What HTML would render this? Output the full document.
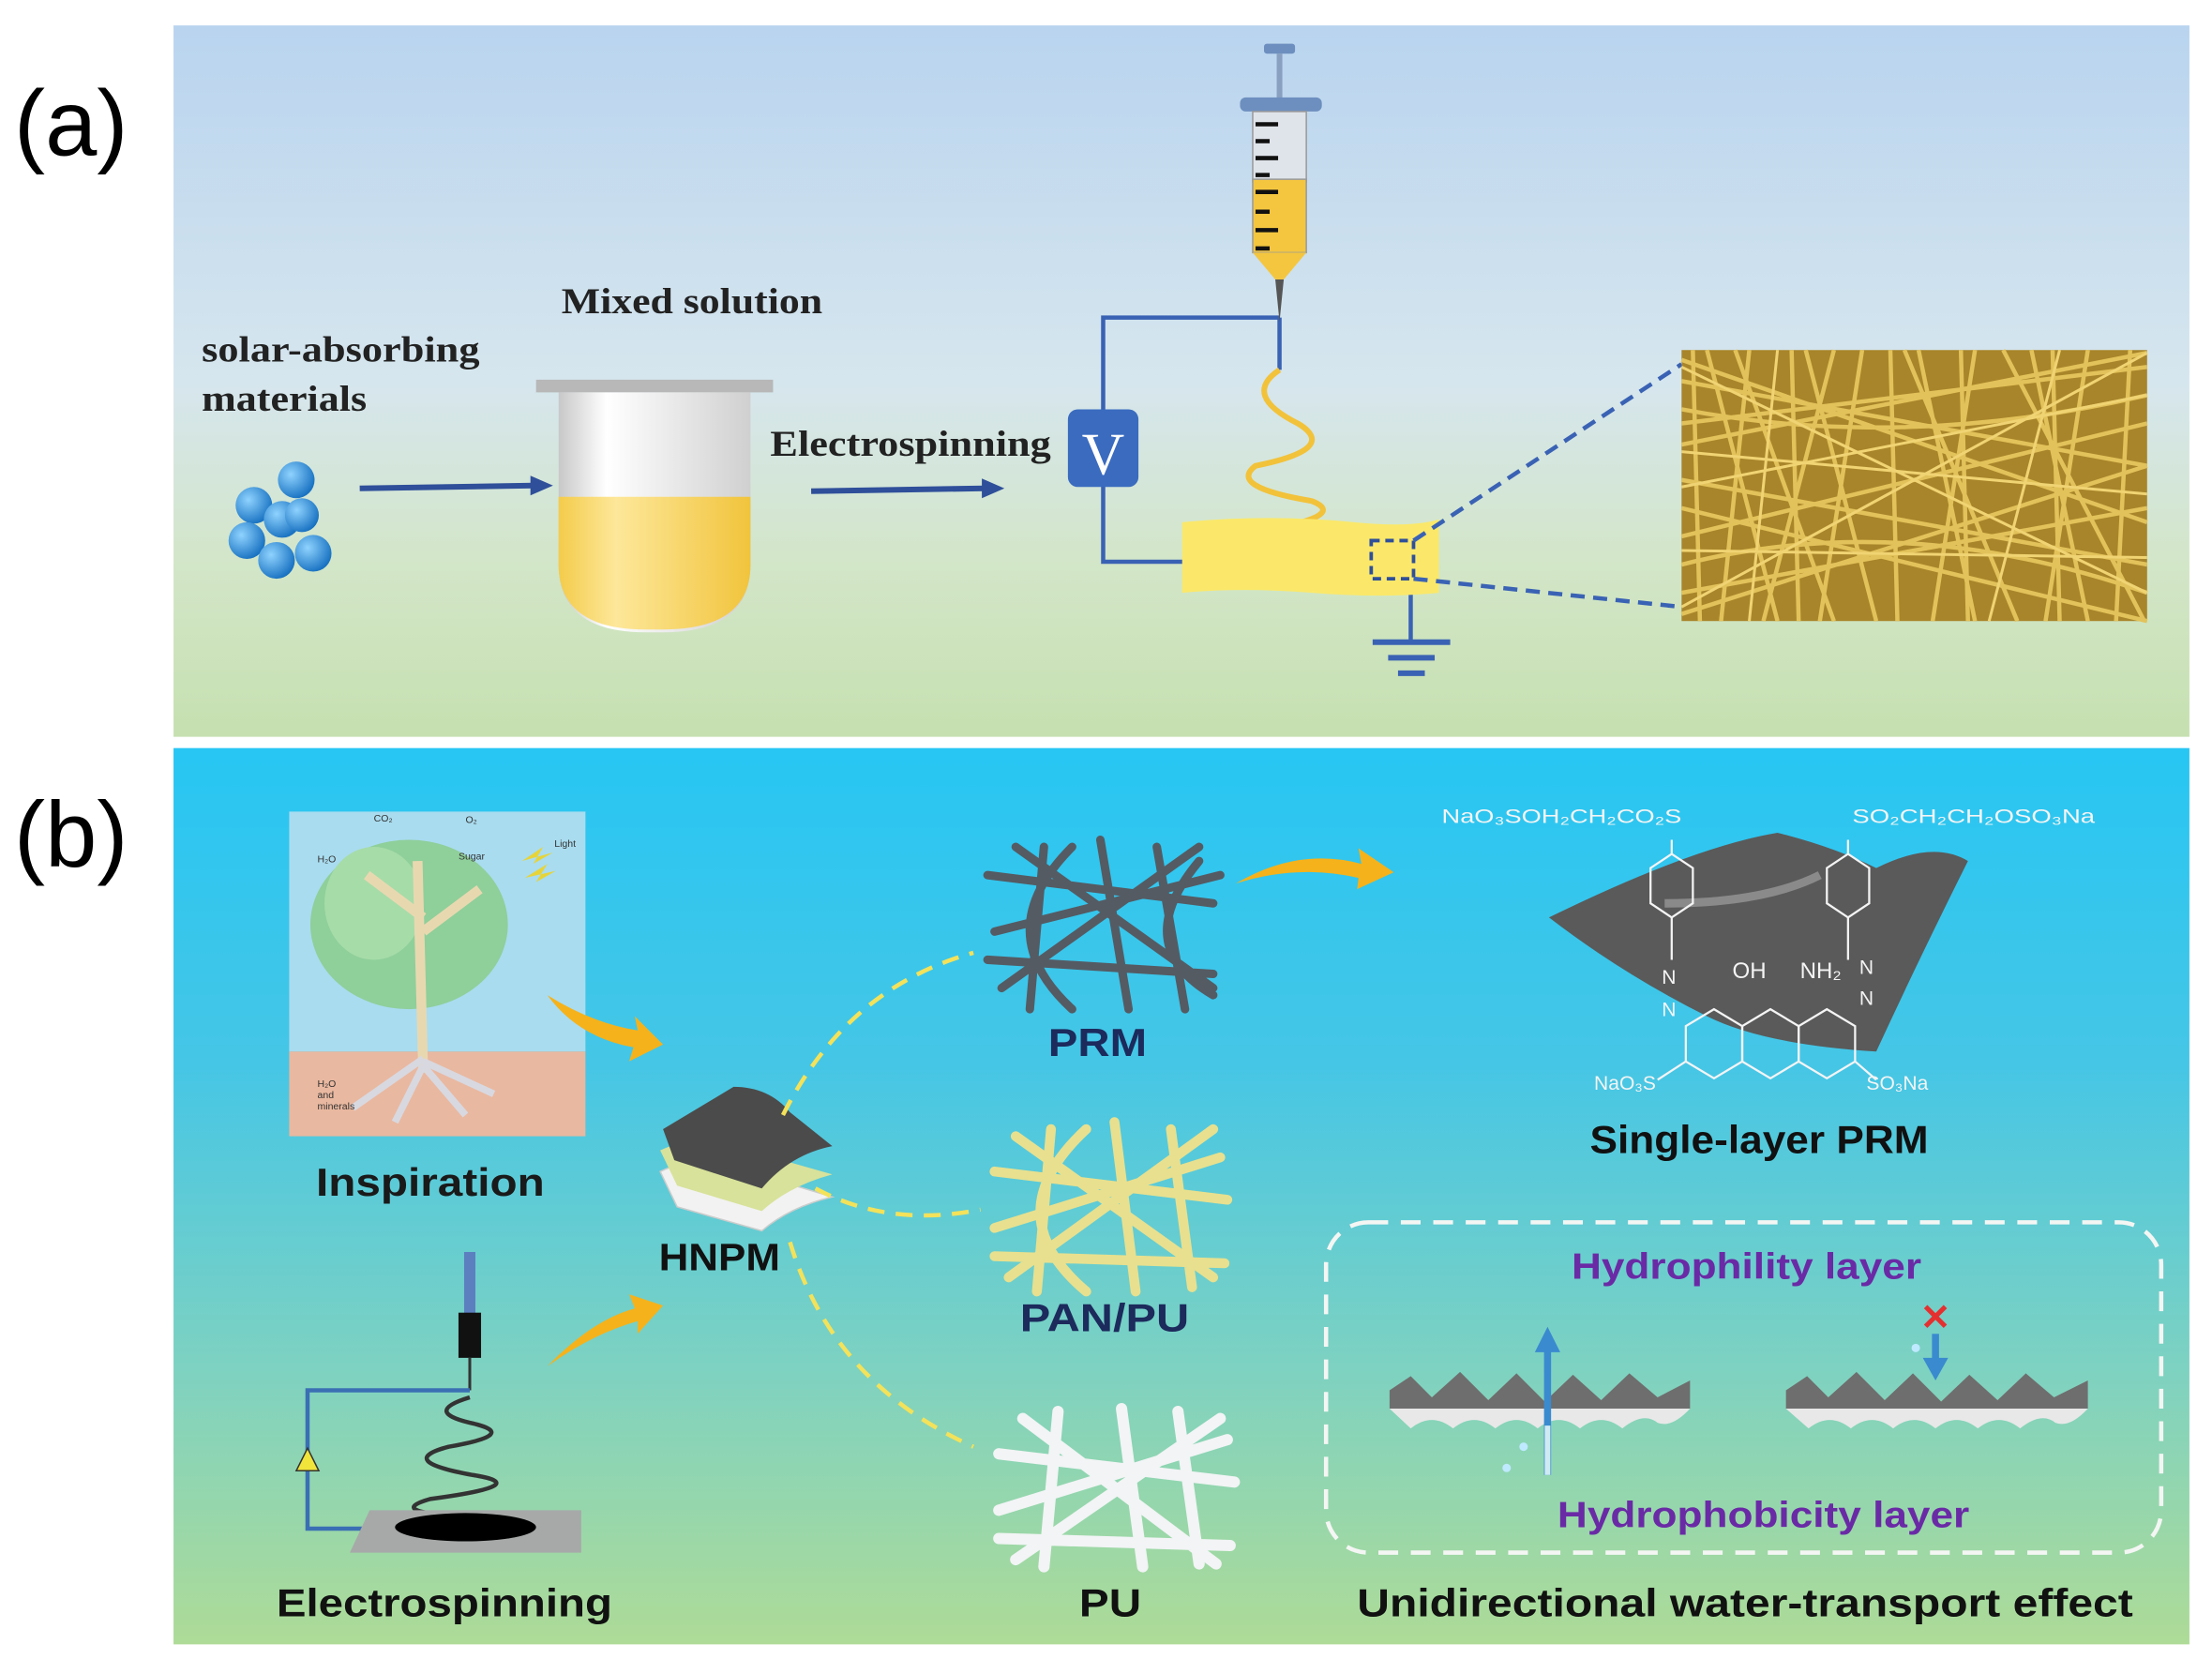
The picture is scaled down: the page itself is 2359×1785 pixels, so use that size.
<!DOCTYPE html>
<html><head><meta charset="utf-8"><style>
html,body{margin:0;padding:0;background:#fff;}
svg{display:block;}
</style></head><body>
<svg width="2359" height="1785" viewBox="0 0 1568 1186" preserveAspectRatio="none" xmlns="http://www.w3.org/2000/svg">
<defs>
<linearGradient id="ga" x1="0" y1="0" x2="0" y2="1">
<stop offset="0" stop-color="#b9d4ef"/><stop offset="0.5" stop-color="#d6e6ee"/><stop offset="0.75" stop-color="#d3e6c9"/><stop offset="1" stop-color="#c6e0b0"/></linearGradient>
<linearGradient id="gb" x1="0" y1="0" x2="0" y2="1">
<stop offset="0" stop-color="#27c6f3"/><stop offset="0.35" stop-color="#45c6e6"/><stop offset="0.7" stop-color="#7fd2c0"/><stop offset="1" stop-color="#aedb97"/></linearGradient>
<linearGradient id="liq" x1="0" y1="0" x2="1" y2="0">
<stop offset="0" stop-color="#f4cc4a"/><stop offset="0.3" stop-color="#fde79a"/><stop offset="1" stop-color="#f1c43c"/></linearGradient>
<linearGradient id="gl" x1="0" y1="0" x2="1" y2="0">
<stop offset="0" stop-color="#c8c8c8"/><stop offset="0.25" stop-color="#ffffff"/><stop offset="1" stop-color="#d0d0d0"/></linearGradient>
<radialGradient id="ball" cx="0.35" cy="0.35" r="0.7"><stop offset="0" stop-color="#8fd3ff"/><stop offset="1" stop-color="#1670c0"/></radialGradient>
</defs>
<rect width="1568" height="1186" fill="#fff"/>
<!-- panel a -->
<rect x="123" y="18" width="1429" height="504" fill="url(#ga)"/>
<text x="10" y="110" font-family="Liberation Sans, sans-serif" font-size="66">(a)</text>
<g fill="url(#ball)">
<circle cx="180" cy="358" r="13"/><circle cx="210" cy="340" r="13"/><circle cx="200" cy="368" r="13"/><circle cx="175" cy="383" r="13"/><circle cx="196" cy="397" r="13"/><circle cx="222" cy="392" r="13"/><circle cx="214" cy="365" r="12"/>
</g>
<text font-family="Liberation Serif, serif" font-weight="bold" font-size="26" fill="#222"><tspan x="143" y="256" textLength="197" lengthAdjust="spacingAndGlyphs">solar-absorbing</tspan><tspan x="143" y="291" textLength="117" lengthAdjust="spacingAndGlyphs">materials</tspan></text>
<text x="398" y="222" font-family="Liberation Serif, serif" font-weight="bold" font-size="26" fill="#222" textLength="185" lengthAdjust="spacingAndGlyphs">Mixed solution</text>
<text x="546" y="323" font-family="Liberation Serif, serif" font-weight="bold" font-size="26" fill="#222" textLength="199" lengthAdjust="spacingAndGlyphs">Electrospinning</text>
<g stroke="#2f4f9a" stroke-width="4" fill="#2f4f9a">
<line x1="255" y1="346" x2="378" y2="344"/><polygon points="376,337 392,344 376,351" stroke="none"/>
<line x1="575" y1="348" x2="698" y2="346"/><polygon points="696,339 712,346 696,353" stroke="none"/>
</g>
<rect x="380" y="269" width="168" height="9" fill="#b8b8b8"/>
<path d="M396 278 H532 V400 Q532 448 470 448 H458 Q396 448 396 400 Z" fill="url(#gl)"/>
<path d="M396 352 H532 V400 Q532 446 470 446 H458 Q396 446 396 400 Z" fill="url(#liq)"/>
<g stroke="#3a62b4" stroke-width="3" fill="none">
<polyline points="782,292 782,225 907,225"/>
<polyline points="782,343 782,398 840,398"/>
<line x1="907" y1="225" x2="907" y2="262"/>
<line x1="1000" y1="418" x2="1000" y2="455"/>
</g>
<rect x="757" y="290" width="50" height="55" rx="7" fill="#3a6bbf"/>
<text x="782" y="336" text-anchor="middle" font-family="Liberation Serif, serif" font-size="42" fill="#fff">V</text>
<rect x="896" y="31" width="22" height="7" rx="2" fill="#6d8fbf"/>
<rect x="905" y="38" width="4" height="32" fill="#8aa0c0"/>
<rect x="879" y="69" width="58" height="10" rx="4" fill="#6d8fbf"/>
<rect x="888" y="79" width="38" height="50" fill="#dfe3ea" stroke="#999"/>
<rect x="888" y="127" width="38" height="52" fill="#f4c640" stroke="#999"/>
<path d="M888 179 H926 L910 198 H904 Z" fill="#f4c640"/>
<g stroke="#111" stroke-width="3"><line x1="890" y1="88" x2="906" y2="88"/><line x1="890" y1="100" x2="900" y2="100"/><line x1="890" y1="112" x2="906" y2="112"/><line x1="890" y1="124" x2="900" y2="124"/><line x1="890" y1="136" x2="906" y2="136"/><line x1="890" y1="150" x2="900" y2="150"/><line x1="890" y1="163" x2="906" y2="163"/><line x1="890" y1="176" x2="900" y2="176"/></g>
<polygon points="904,198 910,198 907,228" fill="#555"/>
<path d="M907 262 Q880 280 920 300 Q950 318 890 330 Q870 345 930 355 Q955 365 900 375" stroke="#f2c23a" stroke-width="4" fill="none"/>
<path d="M838 370 Q900 364 960 370 Q1000 374 1020 368 V420 Q980 424 930 420 Q880 416 838 420 Z" fill="#fbe86a"/>
<rect x="972" y="383" width="30" height="27" fill="none" stroke="#2f4f9a" stroke-width="2.5" stroke-dasharray="6,4"/>
<g stroke="#3a62b4" stroke-width="3" stroke-dasharray="10,6"><line x1="1002" y1="383" x2="1192" y2="258"/><line x1="1002" y1="410" x2="1192" y2="430"/></g>
<g stroke="#3a62b4" stroke-width="4"><line x1="973" y1="455" x2="1028" y2="455"/><line x1="984" y1="466" x2="1017" y2="466"/><line x1="991" y1="477" x2="1010" y2="477"/></g>
<rect x="1192" y="248" width="330" height="192" fill="#a8852a"/>
<g stroke="#e2c25a" stroke-width="3" fill="none">
<path d="M1192 270 L1522 330 M1192 300 L1522 260 M1192 340 L1522 400 M1192 380 L1522 300 M1192 420 L1522 360 M1192 360 L1522 440 M1192 290 Q1350 320 1522 280 M1192 400 Q1350 360 1522 420 M1192 255 L1522 370 M1192 315 L1522 250 M1192 435 L1522 330"/>
<path d="M1210 248 L1260 440 M1240 248 L1220 440 M1280 248 L1330 440 M1320 248 L1290 440 M1360 248 L1400 440 M1400 248 L1370 440 M1440 248 L1480 440 M1480 248 L1450 440 M1510 248 L1500 440 M1230 248 L1300 440 M1350 248 L1430 440 M1420 248 L1520 440 M1300 248 L1250 440 M1200 248 L1205 440 M1270 248 L1275 440 M1340 248 L1345 440 M1390 248 L1395 440 M1455 248 L1460 440"/>
</g>
<g stroke="#f0d373" stroke-width="2" fill="none"><path d="M1192 320 L1522 350 M1192 260 L1522 420 M1260 248 L1240 440 M1460 248 L1410 440 M1192 430 L1522 250 M1192 345 L1522 280 M1192 390 L1522 395"/></g>
<!-- panel b -->
<rect x="123" y="530" width="1429" height="635" fill="url(#gb)"/>
<text x="10" y="614" font-family="Liberation Sans, sans-serif" font-size="66">(b)</text>
<rect x="205" y="575" width="210" height="170" fill="#a9dcef"/>
<rect x="205" y="745" width="210" height="60" fill="#e9b8a0"/>
<ellipse cx="290" cy="655" rx="70" ry="60" fill="#8fcf9a"/>
<ellipse cx="265" cy="640" rx="35" ry="40" fill="#a6dca8"/>
<path d="M296 610 L300 760 M300 650 L260 620 M300 660 L340 630" stroke="#e8d8b0" stroke-width="7" fill="none"/>
<path d="M300 750 L250 785 M300 755 L280 795 M300 755 L330 790 M300 752 L350 775" stroke="#d8d8e0" stroke-width="5" fill="none"/>
<g fill="#e6d43a"><polygon points="370,610 385,600 378,612 392,604"/><polygon points="372,622 388,612 380,625 394,617"/></g>
<g font-family="Liberation Sans, sans-serif" font-size="7" fill="#333"><text x="265" y="582">CO₂</text><text x="330" y="583">O₂</text><text x="225" y="611">H₂O</text><text x="325" y="609">Sugar</text><text x="393" y="600">Light</text><text x="225" y="770">H₂O</text><text x="225" y="778">and</text><text x="225" y="786">minerals</text></g>
<text x="305" y="847" text-anchor="middle" font-family="Liberation Sans, sans-serif" font-weight="bold" font-size="28" fill="#1a1a1a" textLength="162" lengthAdjust="spacingAndGlyphs">Inspiration</text>
<g fill="#f5b21b">
<path d="M388 705 Q420 725 452 730 L450 720 L470 740 L446 752 L449 742 Q410 735 388 705 Z"/>
<path d="M388 968 Q420 935 450 927 L446 917 L470 925 L452 945 L452 936 Q420 945 388 968 Z"/>
<path d="M876 626 Q920 600 965 612 L963 601 L988 618 L962 630 L963 622 Q920 612 876 626 Z"/>
</g>
<path d="M468 830 Q500 815 530 830 L590 848 Q560 855 540 872 L480 855 Z" fill="#f2f2f2" stroke="#ccc"/>
<path d="M468 815 Q500 800 530 815 L590 832 Q560 840 540 858 L480 840 Z" fill="#d8e29a"/>
<path d="M470 800 L520 770 Q545 770 560 788 L590 812 Q560 818 540 842 L478 822 Z" fill="#4b4b4b"/>
<text x="510" y="900" text-anchor="middle" font-family="Liberation Sans, sans-serif" font-weight="bold" font-size="27" fill="#111" textLength="86" lengthAdjust="spacingAndGlyphs">HNPM</text>
<g stroke="#f3e25a" stroke-width="3" fill="none" stroke-dasharray="12,8">
<path d="M555 790 Q600 700 690 675"/>
<path d="M578 842 Q630 870 695 857"/>
<path d="M560 880 Q590 980 690 1025"/>
</g>
<g stroke="#555b63" stroke-width="6" fill="none" stroke-linecap="round">
<path d="M700 620 L860 640 M705 660 L865 620 M710 700 L850 600 M720 600 L860 700 M740 600 L730 715 M780 595 L800 715 M820 600 L840 715 M700 680 L860 690 M760 600 Q700 660 760 715 M850 610 Q800 670 860 705"/>
</g>
<text x="778" y="748" text-anchor="middle" font-family="Liberation Sans, sans-serif" font-weight="bold" font-size="28" fill="#1c2a5c" textLength="70" lengthAdjust="spacingAndGlyphs">PRM</text>
<g stroke="#e8e08e" stroke-width="7" fill="none" stroke-linecap="round">
<path d="M705 830 L870 850 M705 870 L865 820 M715 905 L860 800 M720 805 L860 905 M745 800 L735 915 M790 795 L805 915 M830 800 L845 912 M705 890 L868 895 M770 800 Q705 860 770 915"/>
</g>
<text x="783" y="943" text-anchor="middle" font-family="Liberation Sans, sans-serif" font-weight="bold" font-size="28" fill="#1c2a5c" textLength="120" lengthAdjust="spacingAndGlyphs">PAN/PU</text>
<g stroke="#f2f4f5" stroke-width="8" fill="none" stroke-linecap="round">
<path d="M708 1030 L875 1050 M708 1070 L870 1020 M720 1105 L865 1005 M725 1005 L862 1108 M750 1000 L740 1110 M795 998 L810 1110 M835 1000 L850 1108 M708 1090 L872 1095"/>
</g>
<text x="787" y="1145" text-anchor="middle" font-family="Liberation Sans, sans-serif" font-weight="bold" font-size="28" fill="#111" textLength="44" lengthAdjust="spacingAndGlyphs">PU</text>
<rect x="329" y="887" width="8" height="45" fill="#5c7fc0"/>
<rect x="325" y="930" width="16" height="32" fill="#111"/>
<line x1="333" y1="962" x2="333" y2="985" stroke="#333" stroke-width="2"/>
<polyline points="333,985 218,985 218,1083 265,1083" stroke="#3b6fb4" stroke-width="3" fill="none"/>
<polygon points="210,1042 226,1042 218,1026" fill="#f1e43a" stroke="#333"/>
<path d="M333 990 Q300 1000 333 1008 Q370 1016 318 1025 Q280 1035 335 1045 Q380 1052 305 1062 Q270 1072 340 1075" stroke="#333" stroke-width="3" fill="none"/>
<polygon points="262,1070 412,1070 412,1100 248,1100" fill="#a7a9a9"/>
<ellipse cx="330" cy="1082" rx="50" ry="10" fill="#000"/>
<text x="315" y="1145" text-anchor="middle" font-family="Liberation Sans, sans-serif" font-weight="bold" font-size="28" fill="#111" textLength="238" lengthAdjust="spacingAndGlyphs">Electrospinning</text>
<path d="M1098 650 Q1200 600 1260 590 Q1300 600 1330 615 Q1370 595 1395 610 Q1360 680 1330 745 Q1250 740 1210 720 Q1150 690 1098 650 Z" fill="#5a5a5a"/>
<path d="M1180 640 Q1250 640 1290 620" stroke="#8a8a8a" stroke-width="6" fill="none"/>
<g stroke="#f4f4f4" stroke-width="1.5" fill="none">
<polygon points="1185,605 1200,615 1200,640 1185,650 1170,640 1170,615"/>
<polygon points="1310,605 1325,615 1325,640 1310,650 1295,640 1295,615"/>
<polygon points="1215,715 1235,727 1235,752 1215,764 1195,752 1195,727"/>
<polygon points="1255,715 1275,727 1275,752 1255,764 1235,752 1235,727"/>
<polygon points="1295,715 1315,727 1315,752 1295,764 1275,752 1275,727"/>
<path d="M1185 595 V605 M1310 595 V605 M1185 650 V680 M1310 650 V680 M1195 752 L1175 765 M1315 752 L1330 765"/>
</g>
<g font-family="Liberation Sans, sans-serif" fill="#f4f4f4" font-size="14">
<text x="1022" y="583" textLength="170" lengthAdjust="spacingAndGlyphs">NaO₃SOH₂CH₂CO₂S</text>
<text x="1313" y="583" textLength="172" lengthAdjust="spacingAndGlyphs">SO₂CH₂CH₂OSO₃Na</text>
<text x="1178" y="697">N</text><text x="1178" y="720">N</text><text x="1318" y="690">N</text><text x="1318" y="712">N</text>
<text x="1228" y="693" font-size="16">OH</text><text x="1276" y="693" font-size="16">NH₂</text>
<text x="1130" y="772">NaO₃S</text><text x="1323" y="772">SO₃Na</text>
</g>
<text x="1247" y="817" text-anchor="middle" font-family="Liberation Sans, sans-serif" font-weight="bold" font-size="28" fill="#111" textLength="240" lengthAdjust="spacingAndGlyphs">Single-layer PRM</text>
<rect x="940" y="866" width="592" height="234" rx="30" fill="none" stroke="#f4f6f4" stroke-width="3" stroke-dasharray="14,9"/>
<text x="1238" y="906" text-anchor="middle" font-family="Liberation Sans, sans-serif" font-weight="bold" font-size="26" fill="#6a2aa6" textLength="248" lengthAdjust="spacingAndGlyphs">Hydrophility layer</text>
<text x="1250" y="1082" text-anchor="middle" font-family="Liberation Sans, sans-serif" font-weight="bold" font-size="26" fill="#6a2aa6" textLength="292" lengthAdjust="spacingAndGlyphs">Hydrophobicity layer</text>
<g>
<path d="M985 985 L1000 975 L1015 990 L1035 972 L1055 992 L1075 973 L1095 993 L1115 974 L1135 992 L1155 973 L1175 990 L1198 978 L1198 998 L985 998 Z" fill="#6e6e6e"/>
<path d="M985 998 H1198 Q1185 1012 1175 1008 Q1165 1000 1150 1012 Q1135 1000 1120 1012 Q1105 1000 1090 1012 Q1075 1000 1060 1012 Q1045 1000 1030 1012 Q1015 1000 1000 1012 Z" fill="#e8e8e8"/>
<path d="M1266 985 L1281 975 L1296 990 L1316 972 L1336 992 L1356 973 L1376 993 L1396 974 L1416 992 L1436 973 L1456 990 L1480 978 L1480 998 L1266 998 Z" fill="#6e6e6e"/>
<path d="M1266 998 H1480 Q1467 1012 1457 1008 Q1447 1000 1432 1012 Q1417 1000 1402 1012 Q1387 1000 1372 1012 Q1357 1000 1342 1012 Q1327 1000 1312 1012 Q1297 1000 1282 1012 Z" fill="#e8e8e8"/>
</g>
<line x1="1097" y1="1045" x2="1097" y2="955" stroke="#3a8ad0" stroke-width="5"/>
<polygon points="1088,958 1106,958 1097,940" fill="#3a8ad0"/>
<line x1="1097" y1="1045" x2="1097" y2="1010" stroke="#cfeaf3" stroke-width="4"/>
<circle cx="1080" cy="1025" r="3" fill="#bfe9ff"/><circle cx="1068" cy="1040" r="3" fill="#bfe9ff"/>
<line x1="1372" y1="945" x2="1372" y2="965" stroke="#3a8ad0" stroke-width="5"/>
<polygon points="1363,962 1381,962 1372,978" fill="#3a8ad0"/>
<text x="1372" y="942" text-anchor="middle" font-family="Liberation Sans, sans-serif" font-weight="bold" font-size="26" fill="#e53030">✕</text>
<circle cx="1358" cy="955" r="3" fill="#bfe9ff"/>
<text x="1237" y="1145" text-anchor="middle" font-family="Liberation Sans, sans-serif" font-weight="bold" font-size="28" fill="#111" textLength="550" lengthAdjust="spacingAndGlyphs">Unidirectional water-transport effect</text>
</svg>
</body></html>
